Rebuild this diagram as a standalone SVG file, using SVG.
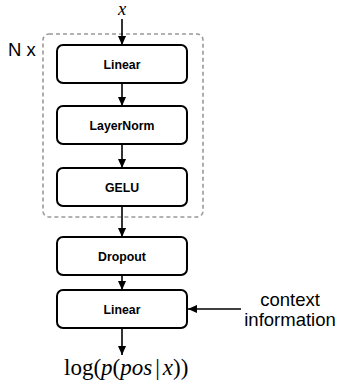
<svg xmlns="http://www.w3.org/2000/svg" width="339" height="383" viewBox="0 0 339 383">
  <style>
    .box { fill: #ffffff; stroke: #000000; stroke-width: 2; }
    .lbl { font-family: "Liberation Sans", Arial, Helvetica, sans-serif; font-weight: bold; font-size: 12.3px; text-anchor: middle; fill: #000000; }
    .sans { font-family: "Liberation Sans", Arial, Helvetica, sans-serif; font-size: 18.5px; fill: #000000; }
    .math { font-family: "Liberation Serif", "Times New Roman", serif; fill: #000000; }
    .it { font-style: italic; }
    .edge { stroke: #000000; stroke-width: 1.6; fill: none; marker-end: url(#arrow); }
    .group { fill: none; stroke: #999999; stroke-width: 1.6; stroke-dasharray: 4 3; }
  </style>
  <defs>
    <marker id="arrow" viewBox="0 0 10 10" refX="10" refY="5" markerWidth="9" markerHeight="9" markerUnits="userSpaceOnUse" orient="auto">
      <path d="M0,0.5 L10,5 L0,9.5 Z" fill="#000000"/>
    </marker>
  </defs>

  <!-- repeated block boundary -->
  <g id="repeat-block">
    <rect class="group" x="43" y="34" width="160" height="183" rx="6"/>
    <text class="sans" x="8" y="56">N x</text>
  </g>

  <!-- input -->
  <g id="input">
    <text class="math it" x="122" y="15" font-size="18.5" text-anchor="middle">x</text>
  </g>

  <g id="linear1">
    <rect class="box" x="57" y="45" width="130" height="38" rx="6"/>
    <text class="lbl" x="122" y="68.5">Linear</text>
  </g>

  <g id="layernorm">
    <rect class="box" x="57" y="106" width="130" height="38" rx="6"/>
    <text class="lbl" x="122" y="129.5">LayerNorm</text>
  </g>

  <g id="gelu">
    <rect class="box" x="57" y="168" width="130" height="38" rx="6"/>
    <text class="lbl" x="122" y="191.5">GELU</text>
  </g>

  <g id="dropout">
    <rect class="box" x="57" y="237" width="130" height="38" rx="6"/>
    <text class="lbl" x="122" y="260.5">Dropout</text>
  </g>

  <g id="linear2">
    <rect class="box" x="57" y="290" width="130" height="38" rx="6"/>
    <text class="lbl" x="122" y="313.5">Linear</text>
  </g>

  <g id="context">
    <text class="sans" x="290" y="306" text-anchor="middle">context</text>
    <text class="sans" x="290" y="326" text-anchor="middle">information</text>
  </g>

  <g id="output">
    <text class="math" x="64" y="375" font-size="23">log(<tspan class="it">p</tspan>(<tspan class="it">pos</tspan><tspan dx="3">|</tspan><tspan class="it" dx="3">x</tspan>))</text>
  </g>

  <!-- connectors -->
  <g id="connectors">
    <line class="edge" x1="122" y1="19" x2="122" y2="45"/>
    <line class="edge" x1="122" y1="83" x2="122" y2="106"/>
    <line class="edge" x1="122" y1="144" x2="122" y2="168"/>
    <line class="edge" x1="122" y1="206" x2="122" y2="237"/>
    <line class="edge" x1="122" y1="275" x2="122" y2="290"/>
    <line class="edge" x1="122" y1="328" x2="122" y2="355"/>
    <line class="edge" x1="241" y1="309" x2="188" y2="309"/>
  </g>
</svg>
